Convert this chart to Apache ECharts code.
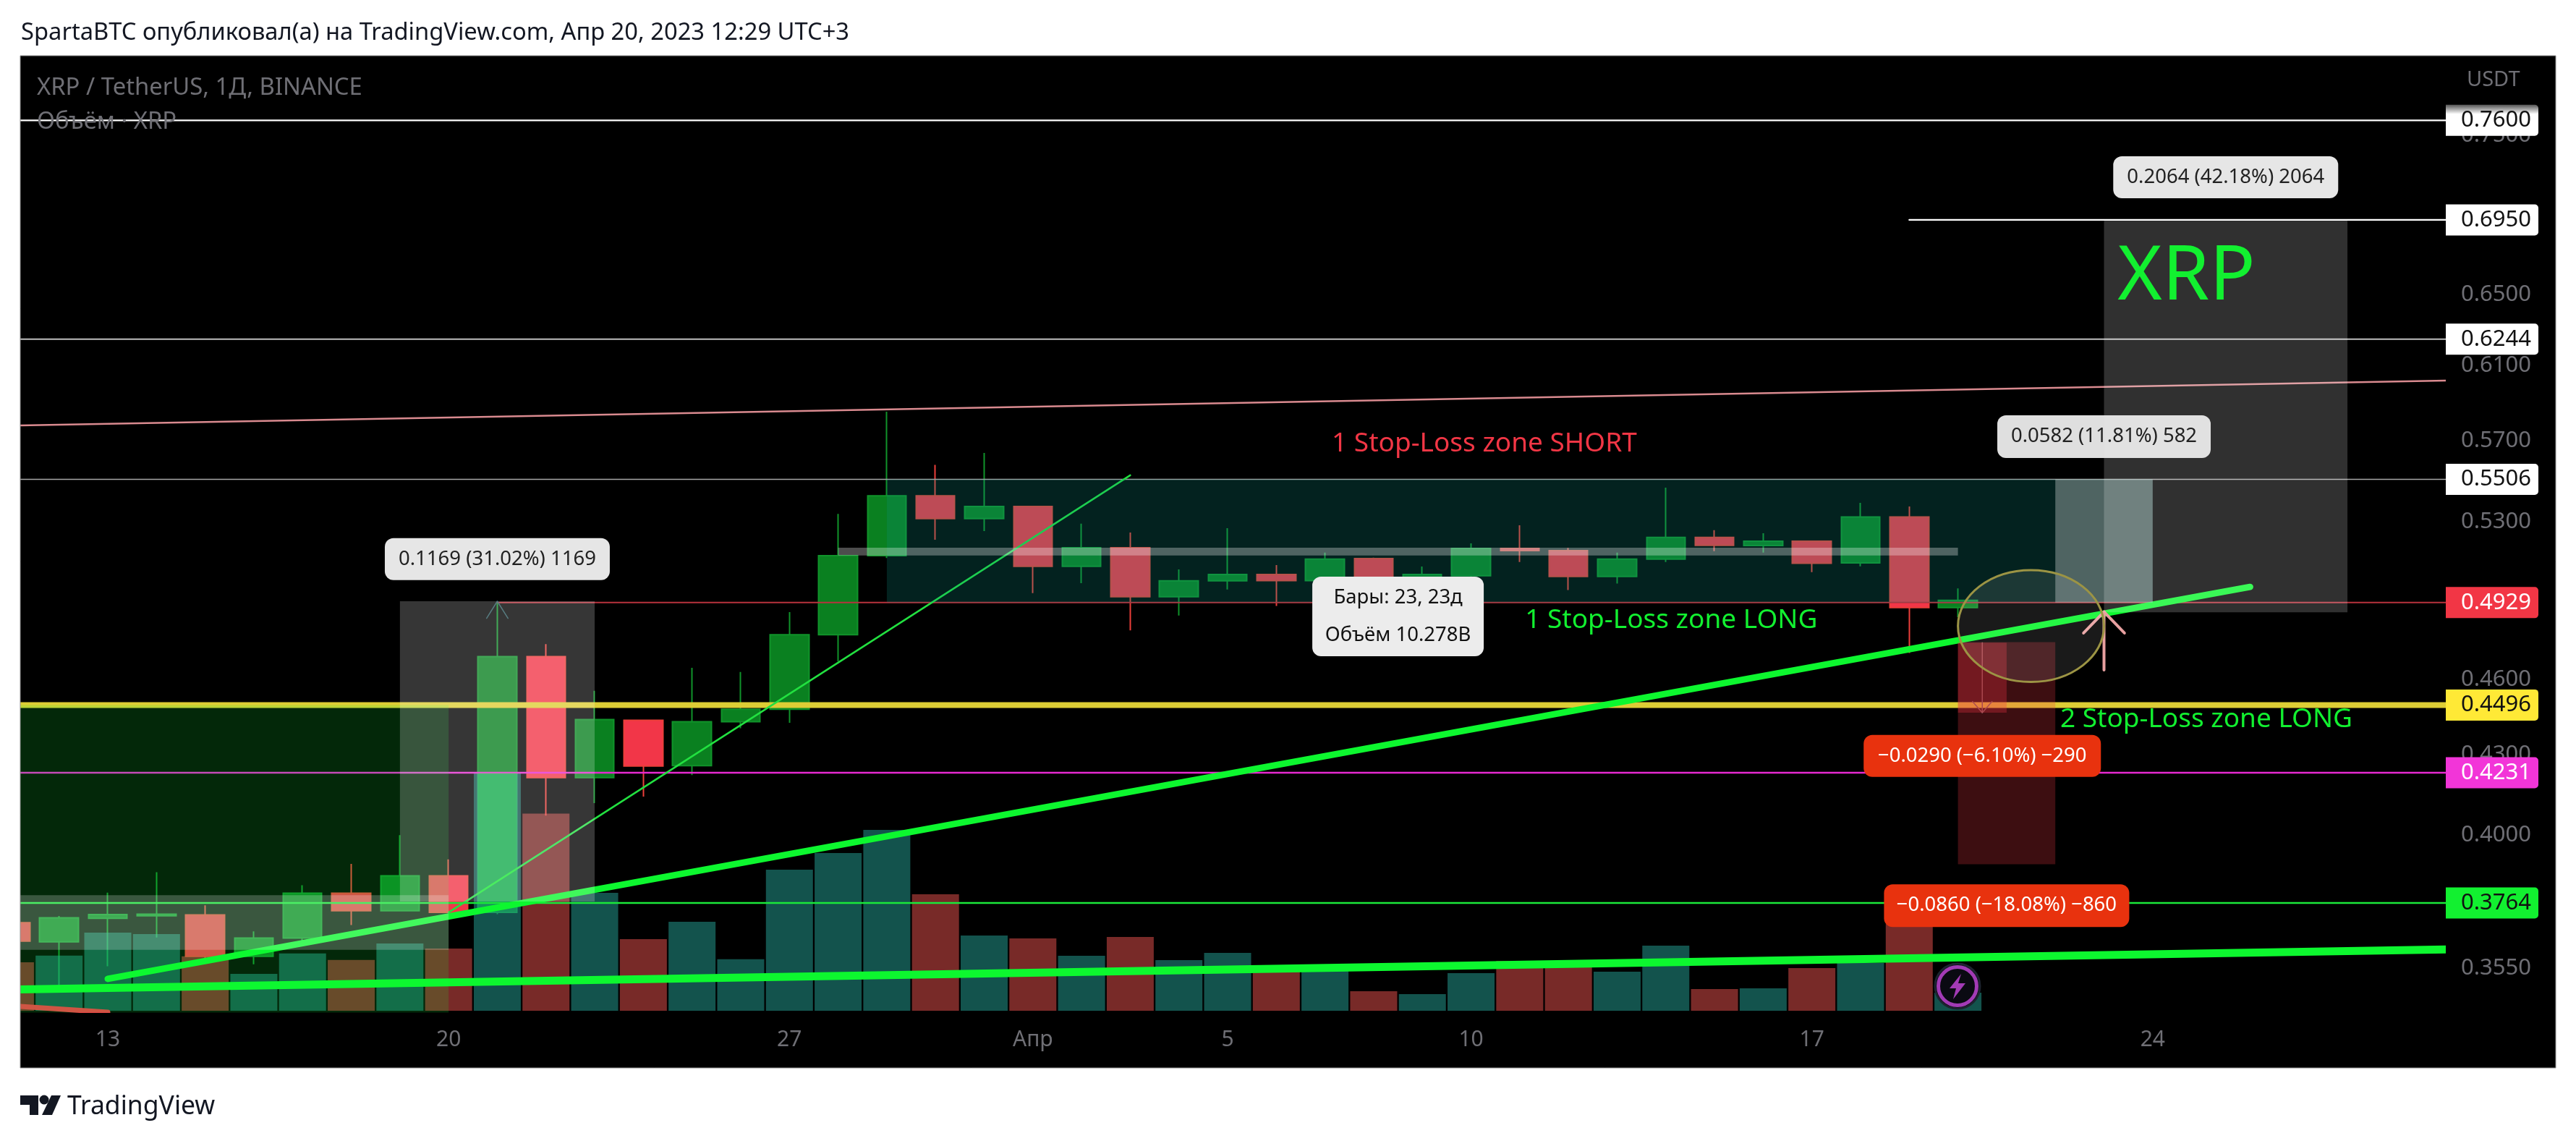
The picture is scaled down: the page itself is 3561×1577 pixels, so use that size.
<!DOCTYPE html>
<html><head><meta charset="utf-8">
<style>html,body{margin:0;padding:0;background:#fff}#c{width:3561px;height:1577px}</style>
<script src="https://cdn.jsdelivr.net/npm/echarts@6/dist/echarts.min.js"></script>
</head><body><div id="c"></div>
<script>
const FONT = '"Noto Sans", sans-serif';
// Day numbers counted from 1 March 2023 (32 = 1 April)
const days = [11,12,13,14,15,16,17,18,19,20,21,22,23,24,25,26,27,28,29,30,31,32,33,34,35,36,37,38,39,40,41,42,43,44,45,46,47,48,49,50,51];
const opens  = [.3698,.3635,.3712,.3721,.3724,.3588,.3647,.3797,.3738,.3857,.3732,.4696,.4212,.4435,.4258,.4429,.4479,.4789,.5141,.5425,.5315,.5373,.5092,.5178,.4955,.5026,.5055,.5027,.5128,.5030,.5049,.5175,.5165,.5046,.5125,.5226,.5188,.5208,.5108,.5323,.4907];
const closes = [.3637,.3714,.3725,.3726,.3588,.3647,.3797,.3738,.3857,.3732,.4696,.4212,.4438,.4256,.4429,.4479,.4789,.5141,.5425,.5315,.5373,.5092,.5178,.4955,.5026,.5055,.5027,.5125,.5030,.5055,.5175,.5165,.5046,.5125,.5226,.5189,.5208,.5106,.5323,.4907,.4939];
const highs  = [.3710,.3720,.3799,.3869,.3756,.3669,.3824,.3898,.4000,.3914,.4931,.4749,.4554,.4438,.4649,.4631,.4887,.5338,.5851,.5578,.5638,.5373,.5291,.5249,.5078,.5270,.5098,.5155,.5132,.5091,.5198,.5283,.5177,.5155,.5465,.5260,.5246,.5208,.5391,.5373,.4992];
const lows   = [.3630,.3494,.3556,.3649,.3580,.3562,.3637,.3690,.3738,.3732,.3726,.4071,.4117,.4141,.4222,.4403,.4425,.4676,.5130,.5215,.5256,.4971,.5016,.4808,.4872,.4987,.4914,.4971,.5022,.4987,.5001,.5112,.4985,.5014,.5112,.5162,.5155,.5066,.5092,.4711,.4865];
const volumes = [389,443,627,616,437,296,460,408,540,500,1914,1583,947,575,715,414,1133,1267,1453,935,604,581,442,593,407,465,320,331,157,134,302,401,389,314,523,174,180,343,383,697,145];
const xTickDays = [13,20,27,32,36,41,48,55];
const xTickLabels = ['13','20','27','Апр','5','10','17','24'];
const priceTicks = [0.75,0.65,0.61,0.57,0.53,0.46,0.43,0.40,0.355];
const levelPrices = [0.7600,0.6950,0.6244,0.5506,0.4929,0.4496,0.4231,0.3764];
const levelStarts = [11.2,50,11.2,11.2,21,11.2,11.2,11.2];
// segments: x0,price0,x1,price1
const XMIN = 11.202, XMAX = 61.02, PMIN = 0.3410, PMAX = 0.8054;
const trendSegments = [
 [11.202,.5779,61.02,.6016],
 [13,.3516,57,.4999],
 [11.202,.3483,61.02,.3610],
 [20,.3732,34,.5526],
 [11.202,.3430,13,.3412],
 [54,.4640,54,.4888],[54,.4888,53.58,.4796],[54,.4888,54.42,.4796],
 [51.5,.4755,51.5,.4465],[51.5,.4465,51.3,.4510],[51.5,.4465,51.7,.4510],
 [21,.4935,20.78,.4860],[21,.4935,21.22,.4860]
];
const zoneBoxes = [
 [11.202,.4496,20,.3411],
 [11.202,.3790,20,.3609],
 [20.6,.4231,21.4,.3769],
 [19,.4935,23,.3769],
 [29,.5506,55,.4929],
 [28,.5178,51,.5142],
 [53,.5506,55,.4929],
 [54,.6950,59,.4886],
 [51,.4757,53,.3897],
 [51,.4755,52,.4465]
];
const ellipseBox = [[51,.5075,54,.4590]];
const tooltipAnchors = [[21,.5125],[39.5,.4868],[56.5,.7221],[54,.5721],[51.5,.4295],[52,.3755]];
const tooltipTexts = ['0.1169 (31.02%) 1169','Бары: 23, 23д\nОбъём 10.278B','0.2064 (42.18%) 2064','0.0582 (11.81%) 582','−0.0290 (−6.10%) −290','−0.0860 (−18.08%) −860'];
const noteAnchors = [[38.14,.5683],[42.11,.4852],[53.1,.4437],[54.28,.6597]];
const noteTexts = ['1 Stop-Loss zone SHORT','1 Stop-Loss zone LONG','2 Stop-Loss zone LONG','XRP'];

// styles
const levelStyle = [
 {c:'#ffffff',w:2.2,bg:'grad',t:'#111'},{c:'#ffffff',w:2.2,bg:'#ffffff',t:'#111'},{c:'#bdbdbd',w:2,bg:'#ffffff',t:'#111'},
 {c:'#a8a8a8',w:1.6,bg:'#ffffff',t:'#111'},{c:'#b8323d',w:2,bg:'#f23645',t:'#fff'},{c:'#ddcd35',w:8,bg:'#ffe936',t:'#111'},
 {c:'#e629d0',w:2.5,bg:'#f235d8',t:'#fff'},{c:'#1ae83a',w:2.5,bg:'#12f030',t:'#111'}];
const segStyle = [
 {c:'#d98a8f',w:2.5},{c:'#0df72f',w:9},{c:'#0df72f',w:11},{c:'#22e040',w:2.5},{c:'#f23645',w:7},
 {c:'#e8a0a0',w:4},{c:'#e8a0a0',w:4},{c:'#e8a0a0',w:4},
 {c:'#6b5a5a',w:1.5},{c:'#6b5a5a',w:1.5},{c:'#6b5a5a',w:1.5},
 {c:'#2b5a60',w:1.5},{c:'#2b5a60',w:1.5}];
const zoneFill = ['rgba(22,255,60,.155)','rgba(255,255,255,.22)','rgba(0,255,20,.22)','rgba(255,255,255,.21)','rgba(13,148,135,.23)','rgba(255,255,255,.3)','rgba(255,255,255,.3)','rgba(255,255,255,.19)','rgba(242,54,69,.25)','rgba(242,54,69,.3)'];
const tipStyle = [
 {w:311,h:58,bg:'#e6e6e6',t:'#222'},{w:237,h:110,bg:'#ececec',t:'#111'},{w:311,h:58,bg:'#e6e6e6',t:'#222'},
 {w:295,h:59,bg:'rgba(232,232,232,.96)',t:'#222'},{w:328,h:58,bg:'#e8320e',t:'#fff'},{w:339,h:59,bg:'#e8320e',t:'#fff'}];
const noteStyle = [{c:'#f23645',s:37},{c:'#12f030',s:37},{c:'#12f030',s:37},{c:'#12f030',s:105}];

const candleData = days.map((d,i)=>[d,opens[i],closes[i],lows[i],highs[i]]);
const volumeData = days.map((d,i)=>[d,volumes[i]]);
const levelData = levelPrices.map((p,i)=>[levelStarts[i],p,XMAX,p]);

function customBase(z,data,renderItem,clip){
  return {type:'custom',coordinateSystem:'cartesian2d',xAxisIndex:0,yAxisIndex:0,z,clip:clip!==false,silent:true,animation:false,
    encode:{x:0,y:1},data,renderItem};
}
function segItem(api,st){
  const a=api.coord([api.value(0),api.value(1)]),b=api.coord([api.value(2),api.value(3)]);
  return {type:'line',shape:{x1:a[0],y1:a[1],x2:b[0],y2:b[1]},style:{stroke:st.c,lineWidth:st.w,lineCap:'round'}};
}
const option={
 animation:false,
 textStyle:{fontFamily:FONT},
 title:{text:'SpartaBTC опубликовал(а) на TradingView.com, Апр 20, 2023 12:29 UTC+3',left:24,top:24,
   textStyle:{fontFamily:FONT,fontSize:32.7,fontWeight:'normal',color:'#131722'}},
 grid:{left:28,right:180,top:77,bottom:177,containLabel:false},
 xAxis:{type:'value',min:XMIN,max:XMAX,axisLine:{show:false},axisTick:{show:false},splitLine:{show:false},
   axisLabel:{customValues:xTickDays,color:'#6f6f75',fontSize:30,fontFamily:FONT,margin:22,
     formatter:v=>xTickLabels[xTickDays.indexOf(v)]}},
 yAxis:[
  {type:'log',min:PMIN,max:PMAX,position:'right',axisLine:{show:false},axisTick:{show:false},splitLine:{show:false},
   axisLabel:{customValues:priceTicks,color:'#6f6f75',fontSize:31,fontFamily:FONT,margin:21,padding:[3,0,0,0],formatter:v=>Number(v).toFixed(4)}},
  {type:'value',min:-17.4,max:7669,show:false,splitLine:{show:false}}
 ],
 graphic:{elements:[
  {type:'rect',z:-100,shape:{x:28,y:77,width:3505,height:1399},style:{fill:'#000'}},
  {type:'rect',z:200,shape:{x:0,y:70,width:28,height:1420},style:{fill:'#fff'}},
  {type:'rect',z:201,shape:{x:28,y:77,width:3505,height:1399},style:{fill:'none',stroke:'#8f8f8f',lineWidth:1}},
  {type:'text',z:100,style:{x:51,y:122,text:'XRP / TetherUS, 1Д, BINANCE',fill:'#6f6f75',font:'32.8px '+FONT,verticalAlign:'middle'}},
  {type:'text',z:100,style:{x:51,y:169,text:'Объём · XRP',fill:'#6f6f75',font:'32.8px '+FONT,verticalAlign:'middle'}},
  {type:'text',z:100,style:{x:3410,y:111,text:'USDT',fill:'#6f6f75',font:'29px '+FONT,verticalAlign:'middle'}},
  {type:'polygon',shape:{points:[[28,1514],[53,1514],[53,1541],[41,1541],[41,1527],[28,1527]]},style:{fill:'#131722'}},
  {type:'circle',shape:{cx:61,cy:1520,r:6.5},style:{fill:'#131722'}},
  {type:'polygon',shape:{points:[[71,1514],[84,1514],[72,1541],[58,1541]]},style:{fill:'#131722'}},
  {type:'text',style:{x:93,y:1530,text:'TradingView',fill:'#131722',font:'35.5px '+FONT,verticalAlign:'middle'}},
  {type:'circle',z:90,shape:{cx:2706,cy:1363,r:31},style:{fill:'#000',stroke:'#1d2430',lineWidth:3}},
  {type:'circle',z:91,shape:{cx:2706,cy:1363,r:26.5},style:{fill:'#0a0a12',stroke:'#a23bb5',lineWidth:5}},
  {type:'polygon',z:92,shape:{points:[[2711,1346],[2695,1366],[2704,1366],[2700,1381],[2717,1359],[2707,1359]]},style:{fill:'#a23bb5'}}
 ]},
 series:[
  {type:'candlestick',name:'XRP / TetherUS',xAxisIndex:0,yAxisIndex:0,z:3,barWidth:54,data:candleData,clip:true,
   itemStyle:{color:'#0a8020',color0:'#f23648',borderColor:'#10932a',borderColor0:'#ec3f3a',borderWidth:2}},
  {type:'bar',name:'Объём',xAxisIndex:0,yAxisIndex:1,z:4,barWidth:65,data:volumeData,clip:true,
   itemStyle:{color:p=>closes[p.dataIndex]>=opens[p.dataIndex]?'rgba(38,166,154,.5)':'rgba(239,83,80,.5)'}},
  customBase(5,levelData,(p,api)=>segItem(api,levelStyle[p.dataIndex])),
  customBase(5,trendSegments,(p,api)=>segItem(api,segStyle[p.dataIndex])),
  customBase(6,zoneBoxes,(p,api)=>{
    const a=api.coord([api.value(0),api.value(1)]),b=api.coord([api.value(2),api.value(3)]);
    return {type:'rect',shape:{x:a[0],y:a[1],width:b[0]-a[0],height:b[1]-a[1]},style:{fill:zoneFill[p.dataIndex]}};
  }),
  customBase(7,ellipseBox,(p,api)=>{
    const a=api.coord([api.value(0),api.value(1)]),b=api.coord([api.value(2),api.value(3)]);
    return {type:'ellipse',shape:{cx:(a[0]+b[0])/2,cy:(a[1]+b[1])/2,rx:(b[0]-a[0])/2,ry:(b[1]-a[1])/2},
      style:{fill:'rgba(255,255,255,.1)',stroke:'#9c9444',lineWidth:3}};
  }),
  customBase(8,noteAnchors,(p,api)=>{
    const a=api.coord([api.value(0),api.value(1)]),st=noteStyle[p.dataIndex];
    return {type:'text',style:{x:a[0],y:a[1],text:noteTexts[p.dataIndex],fill:st.c,font:st.s+'px '+FONT,align:'left',verticalAlign:'middle'}};
  }),
  customBase(9,tooltipAnchors,(p,api)=>{
    const a=api.coord([api.value(0),api.value(1)]),st=tipStyle[p.dataIndex];
    return {type:'group',children:[
      {type:'rect',shape:{x:a[0]-st.w/2,y:a[1]-st.h/2,width:st.w,height:st.h,r:12},style:{fill:st.bg}},
      {type:'text',style:{x:a[0],y:a[1],text:tooltipTexts[p.dataIndex],fill:st.t,font:'27.5px '+FONT,align:'center',verticalAlign:'middle',lineHeight:52}}
    ]};
  }),
  customBase(10,levelData,(p,api)=>{
    const a=api.coord([XMAX,api.value(1)]),st=levelStyle[p.dataIndex];
    const fill=st.bg==='grad'?{type:'linear',x:0,y:0,x2:0,y2:1,colorStops:[{offset:0,color:'#555'},{offset:.3,color:'#fff'},{offset:1,color:'#fff'}]}:st.bg;
    return {type:'group',children:[
      {type:'rect',shape:{x:a[0],y:a[1]-21.5,width:128,height:43,r:[0,5,5,0]},style:{fill}},
      {type:'text',style:{x:a[0]+21,y:a[1],text:levelPrices[p.dataIndex].toFixed(4),fill:st.t,font:'31px '+FONT,align:'left',verticalAlign:'middle'}}
    ]};
  },false)
 ]
};
const chart=echarts.init(document.getElementById('c'),null,{renderer:'canvas',width:3561,height:1577});
chart.setOption(option);
</script></body></html>
